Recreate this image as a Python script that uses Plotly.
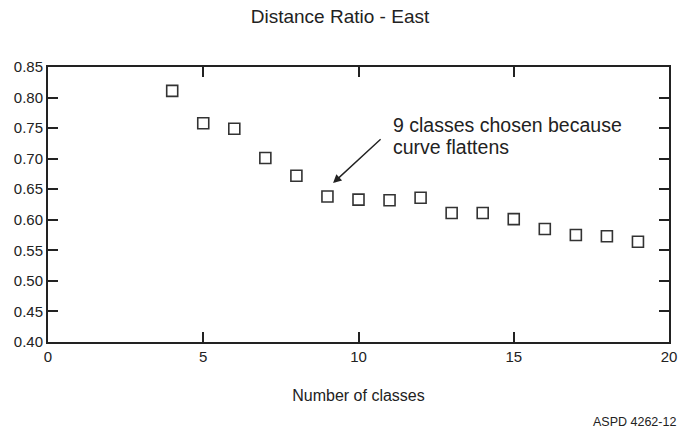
import plotly.graph_objects as go

# Data
num_classes = [4, 5, 6, 7, 8, 9, 10, 11, 12, 13, 14, 15, 16, 17, 18, 19]
distance_ratio = [0.811, 0.758, 0.749, 0.701, 0.672, 0.638, 0.633, 0.632, 0.636,
                  0.611, 0.611, 0.601, 0.585, 0.575, 0.573, 0.564]
x_ticks = [0, 5, 10, 15, 20]
y_ticks = [0.40, 0.45, 0.50, 0.55, 0.60, 0.65, 0.70, 0.75, 0.80, 0.85]

title_text = "Distance Ratio - East"
x_title = "Number of classes"
note_line1 = "9 classes chosen because"
note_line2 = "curve flattens"
arrow_head = (9.18, 0.660)
arrow_tail = (10.76, 0.734)
doc_id = "ASPD 4262-12"

REG = "Liberation Sans, Arial, Helvetica, sans-serif"
INK = "#222222"

fig = go.Figure()
fig.add_trace(go.Scatter(
    x=num_classes, y=distance_ratio, mode="markers",
    marker=dict(symbol="square-open", size=11, color="#333333",
                line=dict(width=1.6, color="#333333")),
    showlegend=False, hoverinfo="x+y",
))

fig.update_layout(
    width=680, height=432,
    margin=dict(l=48, r=11, t=67, b=90, autoexpand=False),
    paper_bgcolor="white", plot_bgcolor="white",
    title=dict(text=title_text, x=0.5, xref="container", xanchor="center",
               y=1 - 16 / 432, yref="container", yanchor="middle",
               font=dict(family=REG, size=19, color=INK)),
    xaxis=dict(range=[0, 20], tickvals=x_ticks, ticktext=[str(v) for v in x_ticks],
               automargin=False,
               showgrid=False, zeroline=False, showline=True, linewidth=2,
               linecolor=INK, mirror="ticks", ticks="inside", ticklen=10,
               tickwidth=2, tickcolor=INK,
               tickfont=dict(family=REG, size=15, color=INK),
               title=dict(text=x_title, standoff=26,
                          font=dict(family=REG, size=16, color=INK))),
    yaxis=dict(range=[0.40, 0.85], tickvals=y_ticks,
               ticktext=[f"{v:.2f}" for v in y_ticks],
               automargin=False,
               showgrid=False, zeroline=False, showline=True, linewidth=2,
               linecolor=INK, mirror="ticks", ticks="inside", ticklen=10,
               tickwidth=2, tickcolor=INK,
               tickfont=dict(family=REG, size=15, color=INK)),
)

fig.add_annotation(x=arrow_head[0], y=arrow_head[1], ax=arrow_tail[0], ay=arrow_tail[1],
                   xref="x", yref="y", axref="x", ayref="y", text="",
                   showarrow=True, arrowhead=2, arrowsize=1.2, arrowwidth=1.4,
                   arrowcolor=INK)
fig.add_annotation(x=11.05, y=0.85 - (125 - 67) / 611, xref="x", yref="y",
                   text=note_line1, showarrow=False, xanchor="left", yanchor="middle",
                   font=dict(family=REG, size=19.5, color=INK))
fig.add_annotation(x=11.05, y=0.85 - (147 - 67) / 611, xref="x", yref="y",
                   text=note_line2, showarrow=False, xanchor="left", yanchor="middle",
                   font=dict(family=REG, size=19.5, color=INK))
fig.add_annotation(x=(591 - 48) / 621, y=(342 - 422) / 275, xref="paper", yref="paper",
                   text=doc_id, showarrow=False, xanchor="left", yanchor="middle",
                   font=dict(family=REG, size=12.5, color=INK))

fig.write_html("out.html", config={"displayModeBar": False},
               post_script="document.body.style.margin='0';document.body.style.overflow='hidden';")
